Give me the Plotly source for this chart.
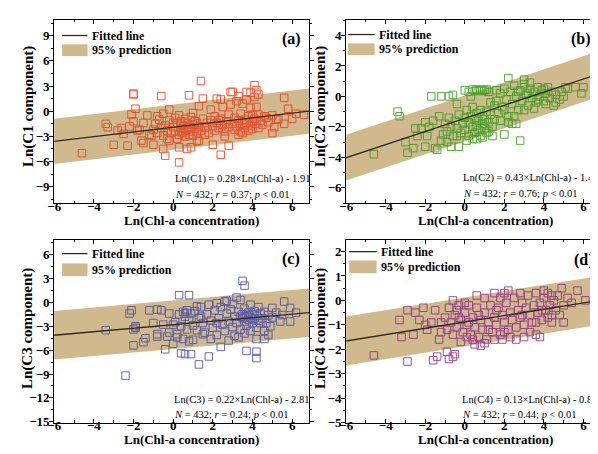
import plotly.graph_objects as go

W, H = 598, 454

# ---------------- data ----------------
c1_points = [
    (-4.6,-5.0),(-3.4,-1.5),(-3.3,-1.9),(-3.0,-4.0),(-2.6,-2.0),(-2.5,-2.7),(-2.3,-4.1),(-2.0,2.1),(-2.0,2.0),
    (-1.9,0.3),(-2.1,-0.4),(-2.0,-1.2),(-1.8,-2.3),(-1.6,-3.5),(-1.5,-3.8),(-1.3,-0.5),(-1.2,-2.8),(-1.0,-4.0),
    (-0.8,-0.6),(-0.6,1.8),(-0.5,-4.5),(-0.4,-5.3),(-0.3,-3.3),(0.0,-1.4),(-0.2,0.2),(0.3,-4.3),(0.3,-6.1),
    (0.7,-4.5),(0.8,1.9),(0.9,-4.3),(1.3,0.6),(1.4,3.6),(1.5,1.5),(1.3,-3.5),(2.0,-4.0),(2.2,1.5),(2.4,1.4),
    (2.4,-5.2),(2.8,-4.1),(2.9,2.3),(3.0,2.3),(3.3,1.8),(3.7,2.3),(3.9,2.2),(4.1,3.1),(4.2,2.5),(4.3,2.0),
    (4.2,0.5),(4.6,-0.6),(5.0,-2.6),(5.2,-1.0),(5.6,1.6),(5.6,-1.5),(5.8,0.3),(6.0,-0.9),(6.2,-0.3),(6.6,-0.4),
    (-1.0,-2.2),(-0.9,-1.5),(-0.8,-2.6),(-0.7,-1.0),(-0.6,-2.0),(-0.5,-2.9),(-0.4,-1.7),(-0.3,-2.3),(-0.2,-1.1),
    (-0.1,-2.6),(0.0,-1.9),(0.1,-2.4),(0.1,-0.8),(0.2,-1.5),(0.3,-2.8),(0.3,-0.5),(0.4,-2.0),(0.4,-1.2),
    (0.5,-2.6),(0.5,-1.7),(0.6,-3.0),(0.6,-0.9),(0.7,-2.2),(0.7,-1.4),(0.8,-2.8),(0.8,-1.9),(0.9,-2.4),
    (0.9,-0.7),(1.0,-1.6),(1.0,-2.9),(1.1,-2.1),(1.1,-1.2),(1.2,-2.5),(1.3,-1.8),(1.4,-2.3),(1.5,-0.9),
    (1.6,-2.0),(1.7,-1.4),(1.8,-2.6),(1.9,-1.1),(2.0,-1.8),(2.1,-0.6),(2.1,-2.3),(2.2,-1.4),(2.3,-2.0),
    (2.4,-0.9),(2.5,-1.6),(2.6,-2.4),(2.7,-1.2),(2.8,-0.4),(2.8,-1.9),(2.9,0.8),(3.0,-1.5),(3.1,-2.2),
    (3.1,-0.8),(3.2,1.2),(3.2,-1.8),(3.3,-1.1),(3.4,-2.4),(3.4,-0.3),(3.5,-1.6),(3.5,0.9),(3.6,-2.0),
    (3.6,-1.0),(3.7,-1.4),(3.7,1.4),(3.8,-2.3),(3.8,-0.6),(3.9,-1.7),(3.9,0.4),(4.0,-1.2),(4.0,-2.1),
    (4.1,-0.9),(4.1,1.7),(4.2,-1.5),(4.3,-0.4),(4.3,-2.0),(4.4,-1.1),(4.5,-1.6),(4.7,-0.8),(4.8,-1.3),
    (5.0,-0.5),(5.1,-1.9),(5.3,-0.9),(-1.5,-1.4),(-1.7,-2.2),(-1.1,-2.9),(-0.2,-3.5),(0.2,-3.3),(1.2,-3.6),
    (2.6,-3.0),(3.3,-2.8),(-2.2,-1.8),(-2.8,-2.3),(1.9,0.2),(2.5,0.5),(1.0,-0.2),(-0.5,-0.3),(0.6,-2.3),
    (0.9,-1.9),(1.2,-1.4),(0.4,-2.5),(3.5,-2.6),(4.0,-0.4),(2.3,-1.1),(1.6,-2.8),
]
c2_points = [
    (-4.6,-3.8),(-3.4,-1.0),(-3.3,-1.3),(-3.0,-3.0),(-2.9,-3.7),(-2.6,-3.4),(-2.4,-2.6),(-2.2,-2.1),(-2.0,-3.3),
    (-1.9,-2.6),(-1.7,0.0),(-1.5,-3.4),(-1.4,-3.5),(-1.2,0.0),(-1.1,-2.5),(-0.8,0.0),(-0.7,-3.3),(-0.6,0.1),
    (-0.4,-2.6),(-0.3,-3.3),(0.0,0.4),(0.2,0.3),(0.4,-2.8),(0.9,-2.7),(1.4,-2.6),(2.0,-2.5),(2.4,-1.8),
    (2.8,-2.9),(2.2,1.2),(3.0,1.1),(3.3,0.9),(4.0,0.5),(5.2,0.5),(5.6,0.6),(5.9,0.2),(6.0,0.6),(4.5,-0.6),
    (-1.0,-1.8),(-0.9,-2.3),(-0.8,-1.4),(-0.7,-2.0),(-0.6,-2.6),(-0.5,-1.6),(-0.4,-2.1),(-0.3,-1.2),(-0.2,-2.4),
    (-0.1,-1.8),(0.0,-1.4),(0.0,-2.2),(0.1,-0.9),(0.2,-1.7),(0.2,-2.6),(0.3,-1.3),(0.4,-2.0),(0.4,-0.7),
    (0.5,-1.5),(0.5,-2.4),(0.6,-1.9),(0.6,-1.1),(0.7,-2.2),(0.7,-1.6),(0.8,-2.6),(0.8,-0.9),(0.9,-1.8),
    (0.9,-1.3),(1.0,-2.1),(1.0,-1.5),(1.1,-1.0),(1.1,-2.4),(1.2,-1.7),(1.3,-1.2),(1.4,-2.0),(1.5,-1.5),
    (1.5,-0.6),(0.4,0.45),(0.5,0.35),(0.6,0.45),(0.7,0.4),(0.8,0.45),(0.9,0.35),(1.0,0.4),(1.1,0.45),
    (1.2,0.3),(1.6,-0.3),(1.7,-1.1),(1.8,0.2),(1.9,-0.7),(2.0,0.5),(2.1,-0.2),(2.2,-1.3),(2.3,0.3),
    (2.4,-0.5),(2.5,0.7),(2.6,0.0),(2.7,-0.9),(2.8,0.4),(2.9,-0.3),(3.0,0.8),(3.1,0.1),(3.2,-0.6),
    (3.3,0.5),(3.4,-0.1),(3.5,0.3),(3.6,-0.4),(3.7,0.6),(3.8,0.0),(3.9,0.4),(4.0,-0.3),(4.1,0.2),
    (4.2,0.6),(4.3,-0.1),(4.4,0.3),(4.6,0.1),(4.8,-0.2),(4.9,0.3),(5.0,0.0),(5.1,0.6),(1.8,-1.6),
    (2.0,-0.9),(2.5,-1.3),(3.0,-0.9),(3.5,-0.8),(4.1,-0.5),(1.3,-0.4),(-1.6,-1.6),(-1.8,-2.0),(-2.0,-1.7),
    (-1.3,-1.3),(-2.5,-2.1),(-0.4,-0.5),(0.3,0.0),(1.6,0.4),(2.6,-1.8),(-1.2,-2.9),(-0.9,-3.0),(0.1,-2.9),
    (0.6,-2.8),(1.2,-2.3),(2.2,-1.7),(3.7,-0.2),(4.6,-0.4),(3.2,0.2),(2.7,0.3),
]
c3_points = [
    (-3.4,-3.5),(-2.1,-1.0),(-2.0,-3.4),(-2.0,-5.4),(-1.9,-3.0),(-1.5,-5.0),(-1.4,-4.5),(-1.2,-1.0),(-0.8,-0.9),
    (-0.8,-4.3),(-0.6,-1.0),(-0.5,-2.8),(-0.4,-5.9),(-0.2,-1.4),(0.0,-5.2),(0.0,-2.8),(0.2,-4.0),(0.3,0.9),
    (0.4,-6.4),(0.5,-4.6),(0.6,-6.5),(0.8,0.9),(0.9,-6.5),(0.8,-4.9),(1.3,-7.8),(1.8,-6.8),(-2.4,-9.2),
    (2.4,-5.6),(3.5,2.7),(3.6,2.1),(3.7,-6.1),(4.2,-6.2),(4.2,-7.0),(4.2,-4.6),(4.6,-4.6),(4.8,-4.1),
    (5.0,-0.7),(5.6,0.1),(5.9,-0.7),(6.2,-1.3),(5.9,-2.4),(5.4,-2.4),(4.9,-3.0),(3.1,-4.2),(2.2,-0.1),
    (2.7,0.2),(3.2,0.6),(3.4,0.3),(0.5,-1.2),(0.6,-1.8),(0.7,-1.0),(0.8,-2.2),(0.9,-1.4),(1.0,-2.9),
    (1.1,-1.1),(1.2,-3.5),(1.3,-2.0),(1.4,-0.6),(1.5,-2.6),(1.6,-3.8),(1.7,-1.5),(1.8,-0.3),(1.9,-2.3),
    (2.0,-3.2),(2.1,-1.0),(2.2,-4.1),(2.3,-2.0),(2.4,-0.6),(2.5,-2.8),(2.6,-3.6),(2.7,-1.4),(2.8,-2.4),
    (2.9,-0.9),(3.0,-3.1),(3.1,-1.8),(3.2,-2.6),(3.3,-1.2),(3.4,-3.4),(3.5,-2.0),(3.5,-1.5),(3.6,-2.4),
    (3.6,-0.8),(3.7,-1.7),(3.7,-2.9),(3.8,-1.3),(3.8,-2.2),(3.9,-1.9),(3.9,-3.6),(4.0,-1.5),(4.0,-2.6),
    (4.1,-1.1),(4.1,-2.0),(4.2,-1.7),(4.2,-3.2),(4.3,-2.3),(4.3,-0.6),(4.4,-1.4),(4.5,-2.0),(4.6,-1.2),
    (4.7,-2.6),(4.8,-1.6),(5.0,-1.9),(5.2,-1.3),(-0.2,-3.8),(0.1,-2.5),(0.2,-4.4),(0.3,-1.5),(-1.0,-2.6),
    (-0.8,-4.0),(-2.2,-1.4),(-1.9,-3.2),(-0.3,-4.3),(0.7,-3.4),(1.0,-4.7),(1.5,-4.0),(2.8,-4.8),(3.3,-4.4),
    (3.6,-3.9),(1.9,-4.6),(2.6,0.1),(3.0,-0.2),(3.9,-0.3),(4.6,-3.6),(0.4,-3.0),(5.5,-1.6),(1.2,-0.5),
    (3.4,-1.8),(3.8,-1.6),(4.0,-2.1),(3.6,-1.9),(4.4,-2.6),(2.2,-2.6),(1.4,-1.8),(0.6,-1.4),
]
c4_points = [
    (-4.6,-2.25),(-3.3,-0.8),(-3.2,-1.5),(-2.9,-2.5),(-2.9,-0.4),(-2.6,-1.4),(-2.5,-0.5),(-2.3,-0.8),(-2.0,-1.0),
    (-1.9,-1.2),(-1.6,-2.45),(-1.4,-2.3),(-1.3,-1.6),(-1.2,-0.9),(-0.9,-2.1),(-0.8,-2.4),(-0.6,-2.3),(-0.5,-2.2),
    (-0.4,-0.4),(0.0,-0.1),(0.1,-1.5),(0.5,-1.8),(0.8,-1.85),(1.0,-1.75),(1.5,0.3),(1.9,-1.6),(2.0,0.3),
    (2.2,0.4),(2.6,-1.6),(3.0,-1.5),(3.6,-1.4),(3.8,-1.5),(4.0,0.4),(4.4,0.2),(4.9,0.5),(5.4,-0.1),
    (5.7,0.4),(6.1,0.0),(5.0,-0.9),(3.6,-0.9),(4.2,-0.7),(4.4,-0.9),(-1.0,-0.7),(-0.9,-1.2),(-0.8,-0.3),
    (-0.7,-0.9),(-0.6,-1.4),(-0.5,-0.6),(-0.4,-1.1),(-0.3,-0.2),(-0.2,-0.8),(-0.1,-1.3),(0.0,-0.5),(0.1,-1.0),
    (0.2,-0.2),(0.3,-1.4),(0.4,-0.7),(0.5,-1.1),(0.6,-0.3),(0.7,-1.5),(0.8,-0.8),(0.9,-1.2),(1.0,-0.5),
    (1.1,-1.6),(1.2,-0.9),(1.3,-0.2),(1.4,-1.3),(1.5,-0.7),(1.6,-1.0),(1.7,-0.3),(1.8,-1.4),(1.9,-0.6),
    (2.0,-0.9),(2.1,-0.1),(2.2,-1.2),(2.3,-0.5),(2.4,-0.8),(2.5,0.1),(2.6,-1.1),(2.7,-0.4),(2.8,-0.7),
    (2.9,-0.1),(3.0,-1.0),(3.1,-0.3),(3.2,0.2),(3.3,-0.6),(3.4,-0.9),(3.5,-0.2),(3.6,0.3),(3.7,-0.5),
    (3.8,-0.1),(3.9,-0.8),(4.0,0.1),(4.1,-0.4),(4.2,0.3),(4.3,-0.2),(4.4,-0.6),(4.5,0.0),(4.6,-0.4),
    (4.7,0.2),(4.8,-0.6),(5.0,-0.2),(5.2,0.1),(-1.5,-0.4),(-1.7,-0.9),(-2.1,-0.3),(-1.2,-1.3),(-0.2,-1.7),
    (0.4,-1.6),(1.5,-1.6),(2.3,-1.5),(0.6,0.2),(1.0,0.1),(-0.6,0.0),(1.8,0.1),(2.8,0.3),(3.3,-1.3),
    (0.2,-0.9),(1.2,-1.2),(2.0,-1.3),(2.9,-0.6),(3.9,-0.4),(0.7,-0.6),(-0.3,-0.7),(1.6,-0.4),
]

slopes = [0.28, 0.43, 0.22, 0.13]
intercepts = [-1.91, -1.44, -2.81, -0.88]
band_half = [2.7, 1.5, 3.05, 1.0]          # half width of 95 % prediction band
r_values = [0.37, 0.76, 0.24, 0.44]
n_samples = 432
component_names = ["C1", "C2", "C3", "C4"]
panel_labels = ["(a)", "(b)", "(c)", "(d)"]
point_colors = ["#e8411f", "#3b9a1f", "#4b4fa6", "#8e2f83"]
x_ticks = [-6, -4, -2, 0, 2, 4, 6]
y_ticks = [[-9, -6, -3, 0, 3, 6, 9], [-6, -4, -2, 0, 2, 4],
           [-15, -12, -9, -6, -3, 0, 3, 6], [-5, -4, -3, -2, -1, 0, 1, 2]]
y_minor = [1.5, 1, 1.5, 0.5]
y_ranges = [[-11, 10.9], [-7.03, 5.03], [-15.1, 7.85], [-5, 2.48]]
x_ranges = [[-6, 6.85], [-6, 6.89], [-6, 6.85], [-6, 6.89]]

all_points = [c1_points, c2_points, c3_points, c4_points]

# ---------------- layout geometry (pixels) ----------------
def px(x):
    return x / W

def py(y):
    return 1 - y / H

x_doms = [[px(40), px(300)], [px(338), 1.0], [px(40), px(300)], [px(338), 1.0]]
y_doms = [[py(199), py(12)], [py(199), py(12)], [py(422), py(236)], [py(422), py(236)]]

SERIF = "Liberation Serif"
band_color = "#d0b98d"
line_color = "#2e2a1c"

fig = go.Figure()
layout = dict(width=W, height=H, margin=dict(l=0, r=0, t=0, b=0),
              paper_bgcolor="white", plot_bgcolor="white", showlegend=False)

shapes = []
annotations = []

for i in range(4):
    k = "" if i == 0 else str(i + 1)
    xa, ya = "x" + k, "y" + k
    pts = all_points[i]
    xs = [p[0] for p in pts]
    ys = [p[1] for p in pts]
    x0, x1 = -6.5, 7.5
    f0 = slopes[i] * x0 + intercepts[i]
    f1 = slopes[i] * x1 + intercepts[i]
    # prediction band
    fig.add_trace(go.Scatter(x=[x0, x1, x1, x0, x0],
                             y=[f0 + band_half[i], f1 + band_half[i], f1 - band_half[i], f0 - band_half[i], f0 + band_half[i]],
                             mode="lines", fill="toself", fillcolor=band_color,
                             line=dict(width=0), xaxis=xa, yaxis=ya, hoverinfo="skip"))
    # points
    fig.add_trace(go.Scatter(x=xs, y=ys, mode="markers",
                             marker=dict(symbol="square-open", size=7.5, color=point_colors[i],
                                         line=dict(width=1, color=point_colors[i])),
                             opacity=0.85, xaxis=xa, yaxis=ya))
    # fitted line
    fig.add_trace(go.Scatter(x=[x0, x1], y=[f0, f1], mode="lines",
                             line=dict(color=line_color, width=1.3), xaxis=xa, yaxis=ya))

    axis_common = dict(showline=True, linecolor="black", linewidth=1, mirror="allticks",
                       showgrid=False, zeroline=False,
                       tickfont=dict(family=SERIF, size=13, color="black", weight="bold"),
                       tickcolor="black", ticklen=4, tickwidth=1)
    layout["xaxis" + k] = dict(axis_common, domain=x_doms[i], range=x_ranges[i], anchor=ya,
                               tickvals=x_ticks, ticks="inside", ticklabelstandoff=-9,
                               minor=dict(dtick=1, ticks="inside", ticklen=2.5, tickcolor="black"))
    layout["yaxis" + k] = dict(axis_common, domain=y_doms[i], range=y_ranges[i], anchor=xa,
                               tickvals=y_ticks[i], ticks="outside", ticklabelstandoff=-3,
                               minor=dict(dtick=y_minor[i], tick0=0, ticks="outside", ticklen=2.5, tickcolor="black"))

# ---------------- text & legend annotations ----------------
legend_pos = [  # line x0, x1, line y, rect y0, y1, text x
    (48, 74, 28, 37, 49, 77),
    (340, 367, 27, 36, 48, 369),
    (48, 74, 250, 260, 273, 77),
    (341, 369, 248, 257, 270, 371),
]
label_pos = [(282, 32, "center"), (565, 32, "left"), (282, 256, "center"), (568, 257, "left")]
eq_pos = [(161, 174, 190), (455, 173, 189), (160, 399, 414), (454, 399, 414)]
ytitle_x = [13, 311, 13, 311]
ytitle_y = [100, 100, 326, 326]
xtitle_pos = [(180, 216), (480, 216), (180, 439), (480, 439)]

for i in range(4):
    lx0, lx1, ly, ry0, ry1, tx = legend_pos[i]
    shapes.append(dict(type="line", xref="paper", yref="paper", x0=px(lx0), x1=px(lx1), y0=py(ly), y1=py(ly),
                       line=dict(color=line_color, width=1.3)))
    shapes.append(dict(type="rect", xref="paper", yref="paper", x0=px(lx0), x1=px(lx1), y0=py(ry1), y1=py(ry0),
                       fillcolor=band_color, line=dict(width=0)))
    annotations.append(dict(xref="paper", yref="paper", x=px(tx), y=py(ly), text="Fitted line", showarrow=False,
                            xanchor="left", yanchor="middle",
                            font=dict(family=SERIF, size=12, color="black", weight="bold")))
    annotations.append(dict(xref="paper", yref="paper", x=px(tx), y=py((ry0 + ry1) / 2), text="95% prediction",
                            showarrow=False, xanchor="left", yanchor="middle",
                            font=dict(family=SERIF, size=12, color="black", weight="bold")))
    lxp, lyp, anc = label_pos[i]
    annotations.append(dict(xref="paper", yref="paper", x=px(lxp), y=py(lyp), text=panel_labels[i],
                            showarrow=False, xanchor=anc, yanchor="middle",
                            font=dict(family=SERIF, size=16, color="black", weight="bold")))
    ex, ey1, ey2 = eq_pos[i]
    eq = "Ln(%s) = %.2f×Ln(Chl-a) - %.2f" % (component_names[i], slopes[i], abs(intercepts[i]))
    st = "<i>N</i> = %d; <i>r</i> = %.2f; <i>p</i> &lt; 0.01" % (n_samples, r_values[i])
    annotations.append(dict(xref="paper", yref="paper", x=px(ex), y=py(ey1), text=eq, showarrow=False,
                            xanchor="left", yanchor="middle",
                            font=dict(family=SERIF, size=10.5, color="black")))
    annotations.append(dict(xref="paper", yref="paper", x=px(ex), y=py(ey2), text=st, showarrow=False,
                            xanchor="left", yanchor="middle",
                            font=dict(family=SERIF, size=10.5, color="black")))
    annotations.append(dict(xref="paper", yref="paper", x=px(ytitle_x[i]), y=py(ytitle_y[i]),
                            text="Ln(%s component)" % component_names[i], textangle=-90, showarrow=False,
                            xanchor="center", yanchor="middle",
                            font=dict(family=SERIF, size=15, color="black", weight="bold")))
    xtx, xty = xtitle_pos[i]
    annotations.append(dict(xref="paper", yref="paper", x=px(xtx), y=py(xty), text="Ln(Chl-a concentration)",
                            showarrow=False, xanchor="center", yanchor="middle",
                            font=dict(family=SERIF, size=13, color="black", weight="bold")))

layout["shapes"] = shapes
layout["annotations"] = annotations
fig.update_layout(**layout)
fig.write_html("out.html")
